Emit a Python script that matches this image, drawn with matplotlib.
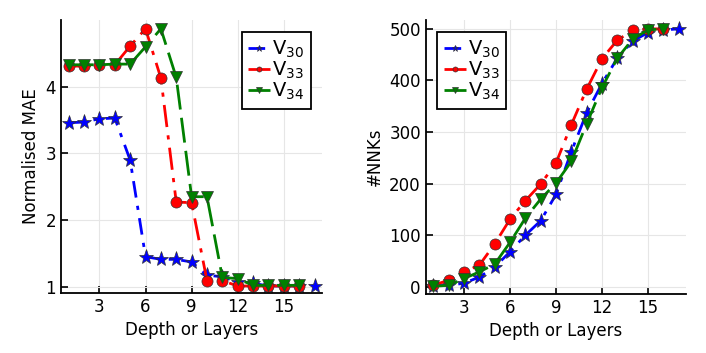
import numpy as np
import matplotlib.pyplot as plt

plt.rcParams.update({"font.family": "DejaVu Sans", "font.size": 12})

depth = list(range(1, 18))

# normalised MAE
mae_v30 = [3.46, 3.47, 3.52, 3.53, 2.90, 1.45, 1.41, 1.41, 1.37, 1.17, 1.15,
           1.07, 1.05, 1.01, 1.01, 1.01, 1.01]
mae_v33 = [4.31, 4.31, 4.33, 4.33, 4.61, 4.87, 4.13, 2.27, 2.26, 1.09, 1.09,
           1.01, 1.01, 1.01, 1.01, 1.01]
mae_v34 = [4.33, 4.33, 4.33, 4.34, 4.34, 4.60, 4.87, 4.14, 2.35, 2.35, 1.14,
           1.12, 1.02, 1.02, 1.02, 1.02]

# number of NNKs
nnk_v30 = [2, 3, 7, 19, 38, 68, 100, 128, 179, 262, 337, 394, 443, 476, 493,
           498, 500]
nnk_v33 = [3, 13, 29, 42, 83, 131, 167, 199, 240, 314, 383, 442, 478, 497,
           500, 500]
nnk_v34 = [1, 3, 16, 29, 44, 86, 133, 170, 201, 243, 316, 386, 443, 480, 498,
           500]

series = [
    ("V$_{30}$", "blue", "*", (0, (6, 3, 1.5, 3)), 11),
    ("V$_{33}$", "red", "o", (0, (8, 3, 1.5, 3)), 8),
    ("V$_{34}$", "green", "v", (0, (9, 3)), 9),
]


def panel(ax, data, ylabel, yticks, ylim, legend_loc):
    for (label, color, marker, ls, ms), ys in zip(series, data):
        ax.plot(depth[:len(ys)], ys, color=color, ls=ls, lw=2,
                marker=marker, ms=ms, mec="#333333", mew=0.5, label=label)
    ax.set_xlim(0.5, 17.5)
    ax.set_ylim(*ylim)
    ax.set_xticks([3, 6, 9, 12, 15])
    ax.set_yticks(yticks)
    ax.set_xlabel("Depth or Layers")
    ax.set_ylabel(ylabel)
    ax.grid(True, color="#e6e6e6", lw=0.8)
    ax.set_axisbelow(True)
    for s in ["top", "right"]:
        ax.spines[s].set_visible(False)
    for s in ["left", "bottom"]:
        ax.spines[s].set_linewidth(1.3)
    ax.tick_params(direction="in", length=5, width=1.2, labelsize=12)
    leg = ax.legend(loc=legend_loc, fontsize=14, fancybox=False,
                    edgecolor="black", framealpha=1, handlelength=1.1,
                    handletextpad=0.1, borderpad=0.35, labelspacing=0.0,
                    borderaxespad=0.6, markerscale=0.45)
    leg.get_frame().set_linewidth(1.3)


fig = plt.figure(figsize=(7.06, 3.53), dpi=100)
ax1 = fig.add_axes([0.0864, 0.170, 0.370, 0.773])
ax2 = fig.add_axes([0.603, 0.167, 0.369, 0.776])

panel(ax1, [mae_v30, mae_v33, mae_v34], "Normalised MAE", [1, 2, 3, 4],
      (0.905, 5.0), "upper right")
panel(ax2, [nnk_v30, nnk_v33, nnk_v34], "#NNKs",
      [0, 100, 200, 300, 400, 500], (-14, 517), "upper left")

fig.savefig("out.png", dpi=100)
